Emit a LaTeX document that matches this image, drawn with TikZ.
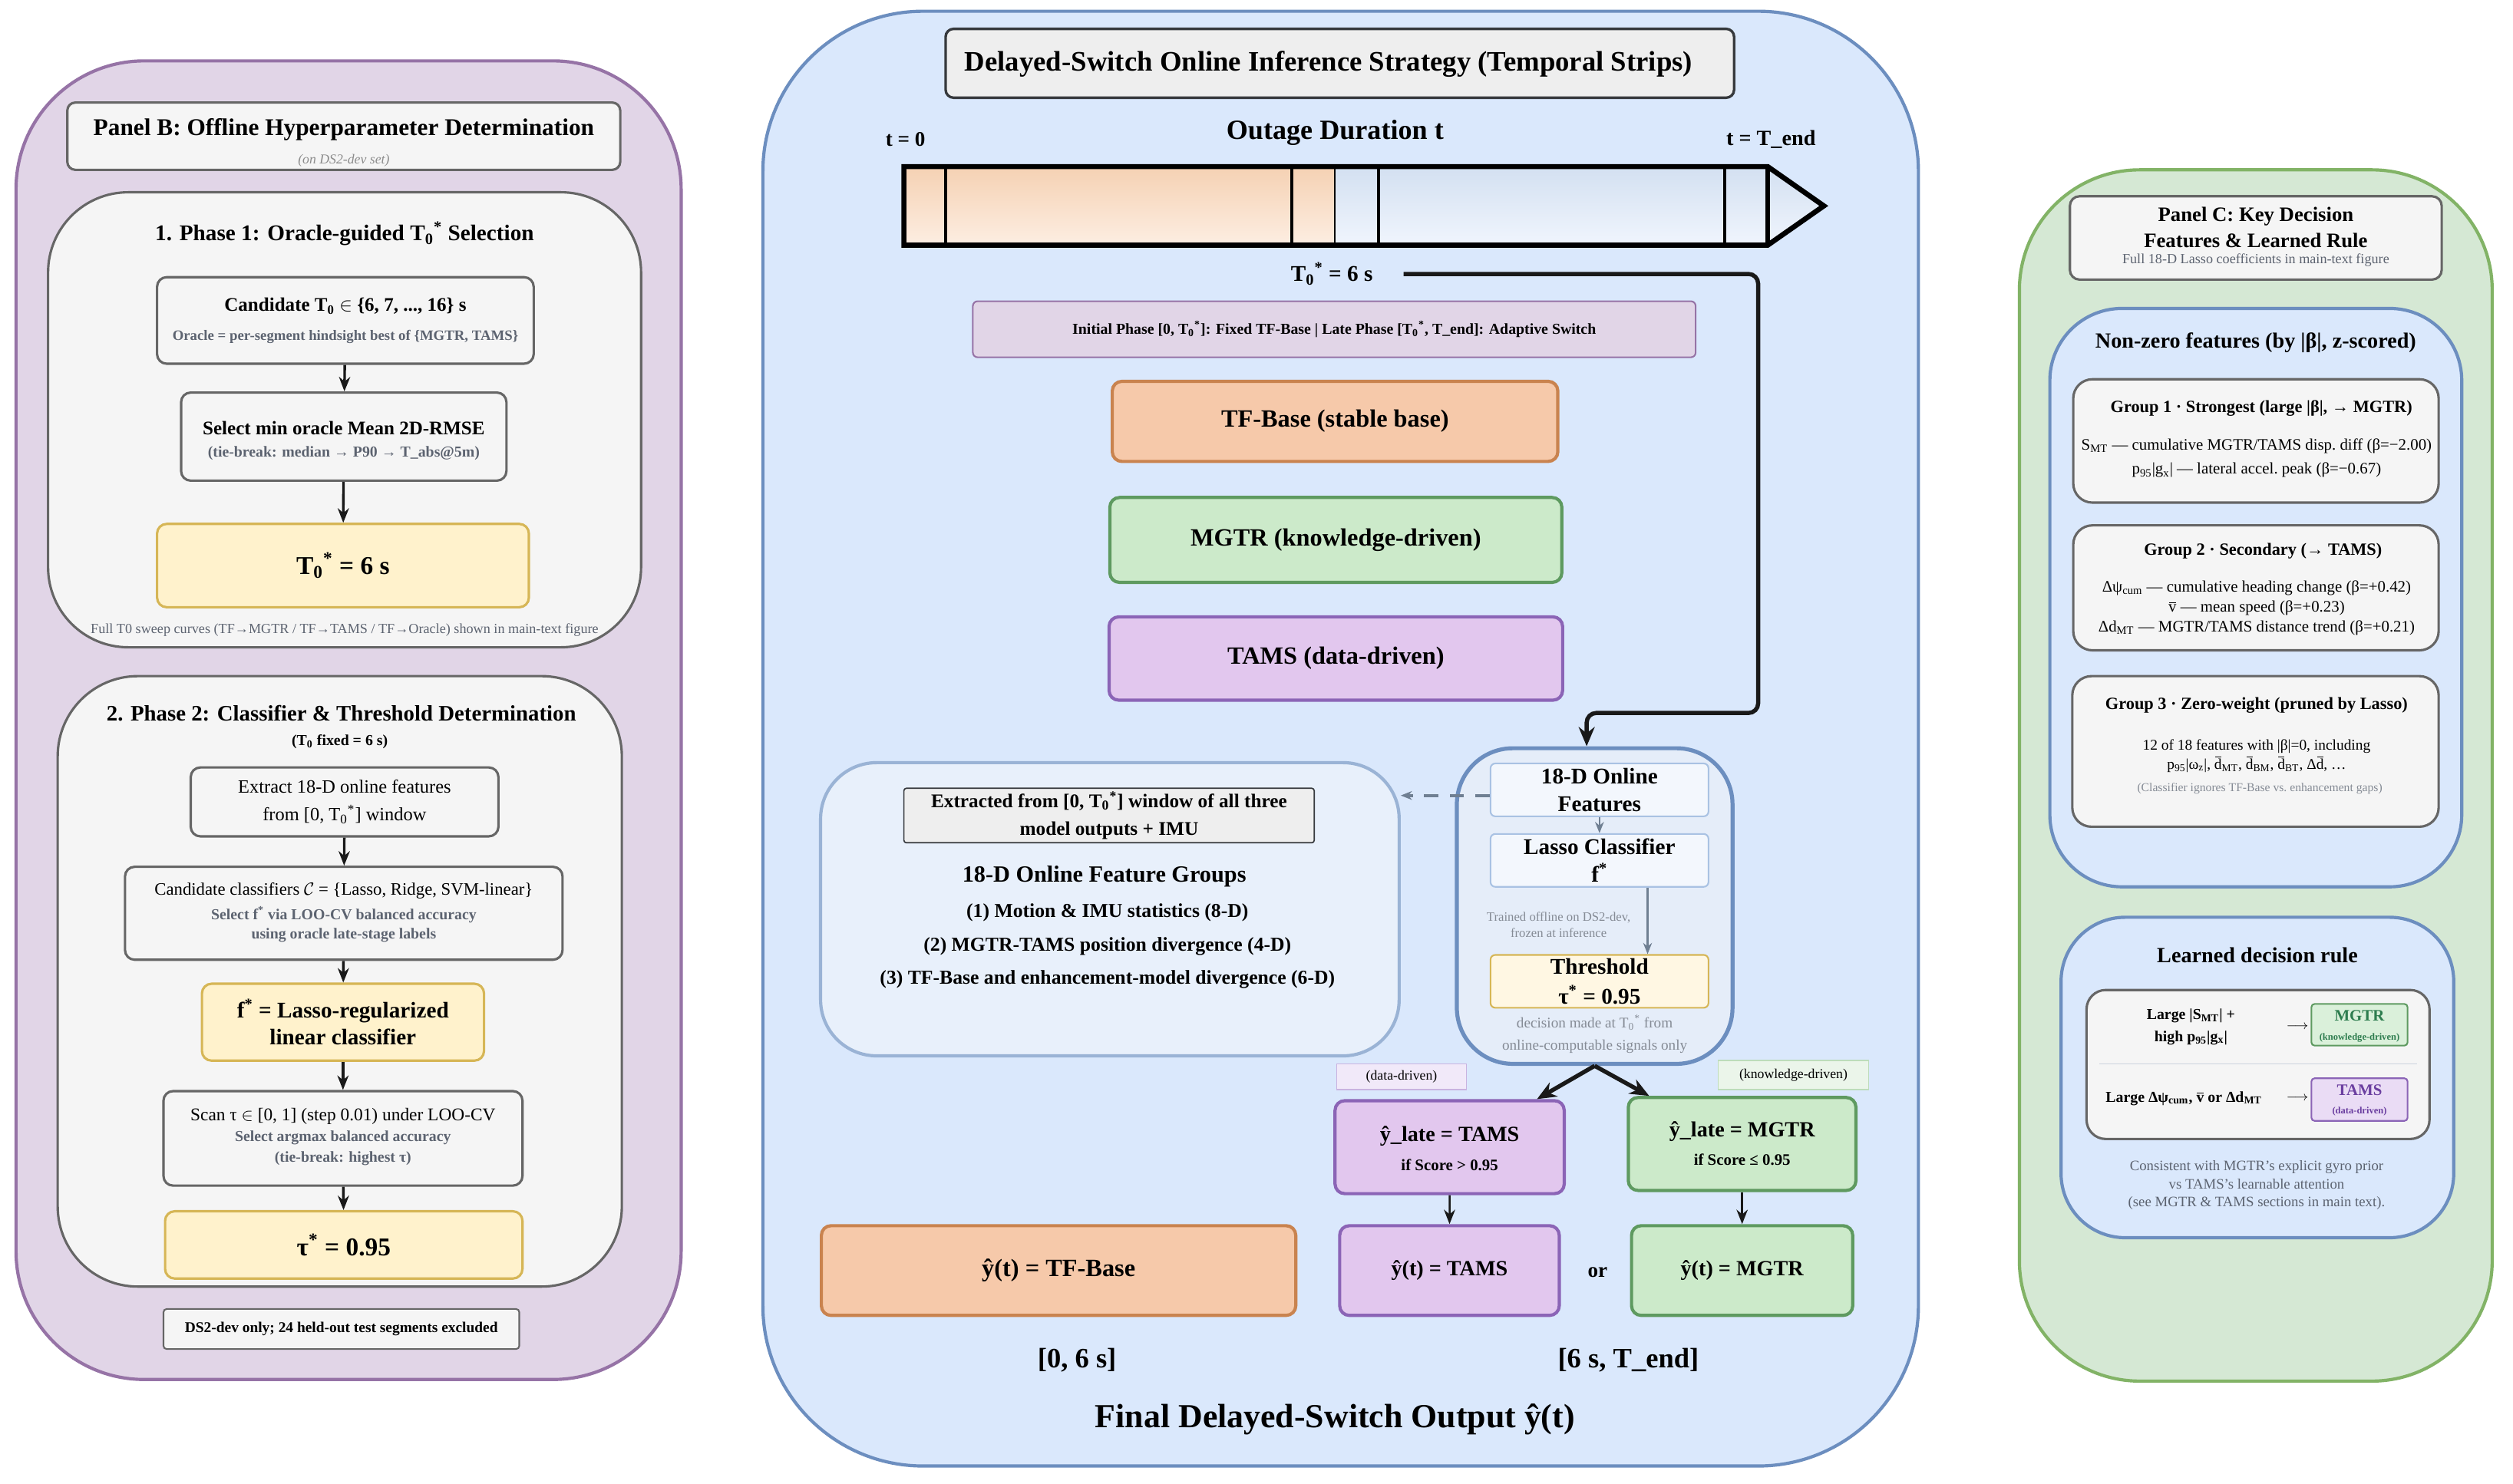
\documentclass[tikz,border=0pt]{standalone}
\usepackage{fontspec}
\setmainfont{Liberation Serif}
\definecolor{PurpFill}{HTML}{E1D5E7}
\definecolor{PurpLine}{HTML}{9673A6}
\definecolor{BoxFill}{HTML}{F5F5F5}
\definecolor{BoxLine}{HTML}{666666}
\definecolor{GoldFill}{HTML}{FFF2CC}
\definecolor{GoldLine}{HTML}{D6B656}
\definecolor{BlueFill}{HTML}{DAE8FC}
\definecolor{BlueLine}{HTML}{6C8EBF}
\definecolor{GreenFill}{HTML}{D5E8D4}
\definecolor{GreenLine}{HTML}{82B366}
\definecolor{BaseFill}{HTML}{F6C9AA}
\definecolor{BaseLine}{HTML}{C9834F}
\definecolor{MgtrFill}{HTML}{CCEACA}
\definecolor{MgtrLine}{HTML}{5E9A60}
\definecolor{TamsFill}{HTML}{E2C7EE}
\definecolor{TamsLine}{HTML}{8B64B6}
\definecolor{NoteGray}{HTML}{5C6370}
\definecolor{LightNote}{HTML}{858B95}
\definecolor{DarkLine}{HTML}{36393D}
\definecolor{TitleFill}{HTML}{EEEEEE}
\definecolor{SoftBlue}{HTML}{E8F0FB}
\definecolor{SoftLine}{HTML}{9AB3D5}
\definecolor{DecFill}{HTML}{E5EDF9}
\definecolor{CellFill}{HTML}{F3F7FD}
\definecolor{CellLine}{HTML}{A9C2E3}
\definecolor{ThrFill}{HTML}{FFF7E3}
\definecolor{ConnGray}{HTML}{6F7F92}
\definecolor{StripOrTop}{HTML}{F5D1B3}
\definecolor{StripOrBot}{HTML}{FDEEE2}
\definecolor{StripBlTop}{HTML}{D3E0F1}
\definecolor{StripBlBot}{HTML}{F0F5FD}
\definecolor{TagDataFill}{HTML}{F1E9F9}
\definecolor{TagDataLine}{HTML}{C9B3E0}
\definecolor{TagKnowFill}{HTML}{EBF5EA}
\definecolor{TagKnowLine}{HTML}{BDDCBB}
\definecolor{RuleMgtrFill}{HTML}{DAF0DA}
\definecolor{RuleMgtrText}{HTML}{2E7D4F}
\definecolor{RuleTamsFill}{HTML}{EADCF5}
\definecolor{RuleTamsText}{HTML}{6B3FA0}
\definecolor{SepLine}{HTML}{CBD3DE}
\usepackage{tikz}
\usetikzlibrary{
    arrows.meta,
    positioning,
    calc,
}
\newcommand{\fsz}[2]{\fontsize{#1}{#2}\selectfont}
\newcommand{\Tzs}{T\textsubscript{0}\textsuperscript{*}}
\newcommand{\mbar}[1]{\leavevmode\vbox{\offinterlineskip\halign{\hfil##\hfil\cr\rule{0.42em}{0.06em}\cr\noalign{\kern0.1em}#1\cr}}}
\tikzset{
    panel/.style={draw, line width=2pt, rounded corners=#1, inner sep=0pt},
    box/.style={draw=BoxLine, fill=BoxFill, line width=1.5pt, rounded corners=6pt, inner sep=0pt, align=center},
    goldbox/.style={box, draw=GoldLine, fill=GoldFill},
    model/.style={rounded corners=6pt, line width=2pt, inner sep=0pt, align=center, font=\fsz{15.5}{18}\bfseries},
    cell/.style={draw=CellLine, fill=CellFill, line width=1pt, rounded corners=3pt, minimum width=136pt, minimum height=33pt, inner sep=0pt, align=center, font=\fsz{14}{17}\bfseries},
    txt/.style={inner sep=0pt, align=center},
    note/.style={txt, text=NoteGray},
    tag/.style={line width=0.8pt, inner sep=0pt, font=\fsz{8.5}{10}},
    flow/.style={-{Stealth[length=9pt,width=7pt]}, line width=1.6pt, draw=black!90},
    bigflow/.style={-{Stealth[length=12pt,width=10pt]}, line width=2.6pt, draw=black!90},
    thinflow/.style={-{Stealth[length=7pt,width=5.5pt]}, line width=1.1pt, draw=ConnGray},
}
\begin{document}
\begin{tikzpicture}[x=1pt, y=-1pt]
    \path[use as bounding box, fill=white] (0,0) rectangle (1568,926);

    \node[panel=80pt, draw=PurpLine, fill=PurpFill, minimum width=415pt, minimum height=823pt] (panB) at (217.5,449.5) {};
    \node[box, rounded corners=5pt, minimum width=345pt, minimum height=42pt] (bHead) at (214.5,85) {};
    \node[txt, font=\fsz{15}{18}\bfseries] (bTitle) at (214.5,81) {Panel B: Offline Hyperparameter Determination};
    \node[txt, font=\fsz{8.5}{10}\itshape, text=black!45] (bSub) at (214.5,100) {(on DS2-dev set)};

    \node[box, rounded corners=50pt, minimum width=370pt, minimum height=284pt] (ph1) at (215,262) {};
    \node[txt, font=\fsz{14}{17}\bfseries] (ph1Title) at (215,146) {1. Phase 1: Oracle-guided \Tzs{} Selection};
    \node[box, minimum width=235pt, minimum height=54pt] (cand) at (215.5,200) {};
    \node[txt, font=\fsz{12}{14}\bfseries] (candA) at (215.5,191) {Candidate T\textsubscript{0} $\in$ \{6, 7, ..., 16\} s};
    \node[note, font=\fsz{9}{11}\bfseries] (candB) at (215.5,210) {Oracle = per-segment hindsight best of \{MGTR, TAMS\}};
    \node[box, minimum width=203pt, minimum height=55pt] (sel) at (214.5,272.5) {};
    \node[txt, font=\fsz{12}{14}\bfseries] (selA) at (214.5,267) {Select min oracle Mean 2D-RMSE};
    \node[note, font=\fsz{9.5}{11}\bfseries] (selB) at (214.5,283) {(tie-break: median → P90 → T\_abs@5m)};
    \node[goldbox, minimum width=232pt, minimum height=52pt, font=\fsz{16}{19}\bfseries] (tzero) at (214,353) {\Tzs{} = 6 s};
    \node[note, font=\fsz{8.7}{10}] (sweep) at (215,393) {Full T0 sweep curves (TF→MGTR / TF→TAMS / TF→Oracle) shown in main-text figure};

    \node[box, rounded corners=50pt, minimum width=352pt, minimum height=381pt] (ph2) at (212,612.5) {};
    \node[txt, font=\fsz{13.8}{17}\bfseries] (ph2Title) at (213,445) {2. Phase 2: Classifier \& Threshold Determination};
    \node[txt, font=\fsz{9.5}{11}\bfseries] (ph2Sub) at (212,463) {(T\textsubscript{0} fixed = 6 s)};
    \node[box, minimum width=192pt, minimum height=43pt, font=\fsz{11.7}{17}] (extr) at (215,500.5) {Extract 18-D online features\\from [0, \Tzs] window};
    \node[box, minimum width=273pt, minimum height=58pt] (cls) at (214.5,570) {};
    \node[txt, font=\fsz{10.9}{12}] (clsA) at (214.5,556) {Candidate classifiers $\mathcal{C}$ = \{Lasso, Ridge, SVM-linear\}};
    \node[note, font=\fsz{9.5}{12}\bfseries] (clsB) at (214.5,577) {Select f\textsuperscript{*} via LOO-CV balanced accuracy\\using oracle late-stage labels};
    \node[goldbox, minimum width=176pt, minimum height=48pt, font=\fsz{14}{17}\bfseries] (fstar) at (214,638) {f\textsuperscript{*} = Lasso-regularized\\linear classifier};
    \node[box, minimum width=224pt, minimum height=59pt] (scan) at (214,710.5) {};
    \node[txt, font=\fsz{11.2}{12}] (scanA) at (214,697) {Scan τ $\in$ [0, 1] (step 0.01) under LOO-CV};
    \node[note, font=\fsz{9.5}{13}\bfseries] (scanB) at (214,716.5) {Select argmax balanced accuracy\\(tie-break: highest τ)};
    \node[goldbox, minimum width=223pt, minimum height=42pt, font=\fsz{16}{19}\bfseries] (tau) at (214.5,777) {τ\textsuperscript{*} = 0.95};
    \node[box, rounded corners=2pt, line width=1pt, minimum width=222pt, minimum height=25pt, font=\fsz{9.3}{11}\bfseries] (devNote) at (213,829.5) {DS2-dev only; 24 held-out test segments excluded};

    \draw[flow] (cand) -- (sel);
    \draw[flow] (sel) -- (tzero);
    \draw[flow] (extr) -- (cls);
    \draw[flow] (cls) -- (fstar);
    \draw[flow] (fstar) -- (scan);
    \draw[flow] (scan) -- (tau);

    \node[panel=100pt, draw=BlueLine, fill=BlueFill, minimum width=721pt, minimum height=908pt] (panA) at (836.5,461) {};
    \node[box, draw=DarkLine, fill=TitleFill, line width=1.6pt, rounded corners=5pt, minimum width=492pt, minimum height=43pt] (aHead) at (836,39.5) {};
    \node[txt, font=\fsz{17.6}{20}\bfseries] (aTitle) at (829,40) {Delayed-Switch Online Inference Strategy (Temporal Strips)};
    \node[txt, font=\fsz{17.3}{20}\bfseries] (axisLbl) at (833,83) {Outage Duration t};
    \node[txt, font=\fsz{13}{15}\bfseries] (tStart) at (565,87) {t = 0};
    \node[txt, font=\fsz{13.5}{15}\bfseries] (tEnd) at (1105,87) {t = T\_end};

    \shade[top color=StripOrTop, bottom color=StripOrBot] (564,104) rectangle (833,153);
    \shade[top color=StripBlTop, bottom color=StripBlBot] (833,104) rectangle (1103,153);
    \shade[top color=StripBlTop, bottom color=StripBlBot] (1103,104) -- (1138,128.5) -- (1103,153) -- cycle;
    \foreach \xx in {590,806,860,1076}
        \draw[line width=1.8pt] (\xx,104) -- (\xx,153);
    \draw[line width=1pt] (833,104) -- (833,153);
    \draw[line width=3.2pt, line join=miter] (564,104) -- (1103,104) -- (1138,128.5) -- (1103,153) -- (564,153) -- cycle;
    \draw[line width=2.5pt] (1103,104) -- (1103,153);

    \node[txt, font=\fsz{14}{16}\bfseries] (t0Lbl) at (831,171) {\Tzs{} = 6 s};
    \node[draw=PurpLine, fill=PurpFill, line width=1pt, rounded corners=3pt, minimum width=451pt, minimum height=35pt, inner sep=0pt, font=\fsz{9.5}{11}\bfseries] (phases) at (832.5,205.5) {Initial Phase [0, \Tzs]: Fixed TF-Base | Late Phase [\Tzs, T\_end]: Adaptive Switch};

    \node[model, draw=BaseLine, fill=BaseFill, minimum width=278pt, minimum height=50pt] (mBase) at (833,263) {TF-Base (stable base)};
    \node[model, draw=MgtrLine, fill=MgtrFill, minimum width=282pt, minimum height=53pt] (mMgtr) at (833.5,337) {MGTR (knowledge-driven)};
    \node[model, draw=TamsLine, fill=TamsFill, minimum width=283pt, minimum height=52pt] (mTams) at (833.5,411) {TAMS (data-driven)};

    \node[draw=SoftLine, fill=SoftBlue, line width=2pt, rounded corners=35pt, minimum width=361pt, minimum height=183pt, inner sep=0pt] (grp) at (692.5,567.5) {};
    \node[draw=DarkLine, fill=TitleFill, line width=0.8pt, rounded corners=1.5pt, minimum width=256pt, minimum height=34pt, inner sep=0pt, align=center, font=\fsz{12.1}{17.5}\bfseries] (grpSrc) at (692,509) {Extracted from [0, \Tzs] window of all three\\model outputs + IMU};
    \node[txt, font=\fsz{14.5}{17}\bfseries] (grpTitle) at (689,547) {18-D Online Feature Groups};
    \node[txt, font=\fsz{12.3}{21}\bfseries] (grpList) at (691,590.5) {(1) Motion \& IMU statistics (8-D)\\(2) MGTR-TAMS position divergence (4-D)\\(3) TF-Base and enhancement-model divergence (6-D)};

    \node[draw=BlueLine, fill=DecFill, line width=2.5pt, rounded corners=35pt, minimum width=172pt, minimum height=197pt, inner sep=0pt] (dec) at (995,565.5) {};
    \node[cell] (feat) at (998,493) {18-D Online\\Features};
    \node[cell] (lasso) at (998,537) {Lasso Classifier\\f\textsuperscript{*}};
    \node[cell, draw=GoldLine, fill=ThrFill, font=\fsz{14}{19}\bfseries] (thr) at (998,612.5) {Threshold\\τ\textsuperscript{*} = 0.95};
    \node[txt, text=LightNote, font=\fsz{8}{10}] (frozen) at (972.5,577) {Trained offline on DS2-dev,\\frozen at inference};
    \node[txt, text=LightNote, font=\fsz{9.2}{14}] (decNote) at (995,645.5) {decision made at \Tzs{} from\\online-computable signals only};

    \draw[thinflow] (feat) -- (lasso);
    \draw[thinflow] ([xshift=30pt]lasso.south) -- ([xshift=30pt]thr.north);
    \draw[thinflow, line width=2pt, dash pattern=on 9pt off 7pt] ([yshift=-3.5pt]feat.west) -- ([yshift=-3.5pt]feat.west -| grp.east);
    \draw[bigflow, rounded corners=6pt] ([xshift=19pt]t0Lbl.east) -| (1097,445) -| ([xshift=-5pt]dec.north);

    \node[tag, draw=TagDataLine, fill=TagDataFill, minimum width=81pt, minimum height=16pt] (tagData) at (874.5,672) {(data-driven)};
    \node[tag, draw=TagKnowLine, fill=TagKnowFill, minimum width=94pt, minimum height=18pt] (tagKnow) at (1119,671) {(knowledge-driven)};

    \node[model, draw=TamsLine, fill=TamsFill, minimum width=143pt, minimum height=58pt] (lateT) at (904.5,716) {};
    \node[txt, font=\fsz{13.5}{16}\bfseries] (lateTA) at (904.5,709) {ŷ\_late = TAMS};
    \node[txt, font=\fsz{10}{12}\bfseries] (lateTB) at (904.5,727) {if Score > 0.95};
    \node[model, draw=MgtrLine, fill=MgtrFill, minimum width=142pt, minimum height=58pt] (lateM) at (1087,714) {};
    \node[txt, font=\fsz{13.5}{16}\bfseries] (lateMA) at (1087,706) {ŷ\_late = MGTR};
    \node[txt, font=\fsz{10}{12}\bfseries] (lateMB) at (1087,724) {if Score ≤ 0.95};

    \draw[bigflow] (dec.south) -- ([xshift=-18pt]lateT.north east);
    \draw[bigflow] (dec.south) -- ([xshift=14pt]lateM.north west);

    \node[model, draw=BaseLine, fill=BaseFill, minimum width=296pt, minimum height=56pt] (outB) at (660.5,793) {ŷ(t) = TF-Base};
    \node[model, draw=TamsLine, fill=TamsFill, minimum width=137pt, minimum height=56pt, font=\fsz{13.5}{16}\bfseries] (outT) at (904.4,793) {ŷ(t) = TAMS};
    \node[txt, font=\fsz{13}{15}\bfseries] (orLbl) at (996.8,794) {or};
    \node[model, draw=MgtrLine, fill=MgtrFill, minimum width=138pt, minimum height=56pt, font=\fsz{13.5}{16}\bfseries] (outM) at (1087,793) {ŷ(t) = MGTR};

    \draw[flow, line width=1.2pt] (lateT) -- (outT);
    \draw[flow, line width=1.2pt] (lateM) -- (outM);

    \node[txt, font=\fsz{17.5}{20}\bfseries] (rngEarly) at (672,849) {[0, 6 s]};
    \node[txt, font=\fsz{17.5}{20}\bfseries] (rngLate) at (1016,849) {[6 s, T\_end]};
    \node[txt, font=\fsz{21}{24}\bfseries] (finalLbl) at (833,886) {Final Delayed-Switch Output ŷ(t)};

    \node[panel=75pt, draw=GreenLine, fill=GreenFill, minimum width=295pt, minimum height=756pt] (panC) at (1407.5,484) {};
    \node[box, minimum width=232pt, minimum height=52pt] (cHead) at (1407.5,148.5) {};
    \node[txt, font=\fsz{12.8}{16}\bfseries] (cTitle) at (1407.5,142) {Panel C: Key Decision\\Features \& Learned Rule};
    \node[note, font=\fsz{8.7}{10}] (cSub) at (1407.5,162.5) {Full 18-D Lasso coefficients in main-text figure};

    \node[panel=45pt, draw=BlueLine, fill=BlueFill, minimum width=257pt, minimum height=361pt] (nzBox) at (1407.5,373) {};
    \node[txt, font=\fsz{13.5}{15}\bfseries] (nzTitle) at (1407.5,214) {Non-zero features (by |β|, z-scored)};

    \node[box, rounded corners=12pt, minimum width=228pt, minimum height=77pt] (g1) at (1407.6,275.2) {};
    \node[txt, font=\fsz{10.7}{12}\bfseries] (g1Title) at (1411,254.6) {Group 1 · Strongest (large |β|, → MGTR)};
    \node[txt, font=\fsz{10}{15}] (g1Body) at (1408,286) {S\textsubscript{MT} — cumulative MGTR/TAMS disp.\ diff (β=−2.00)\\p\textsubscript{95}|g\textsubscript{x}| — lateral accel.\ peak (β=−0.67)};

    \node[box, rounded corners=12pt, minimum width=228pt, minimum height=78pt] (g2) at (1407.6,366.9) {};
    \node[txt, font=\fsz{10.7}{12}\bfseries] (g2Title) at (1412,343.8) {Group 2 · Secondary (→ TAMS)};
    \node[txt, font=\fsz{10}{12.5}] (g2Body) at (1408,379.5) {Δψ\textsubscript{cum} — cumulative heading change (β=+0.42)\\\mbar{v} — mean speed (β=+0.23)\\Δd\textsubscript{MT} — MGTR/TAMS distance trend (β=+0.21)};

    \node[box, rounded corners=12pt, minimum width=228.6pt, minimum height=94pt] (g3) at (1407.3,469) {};
    \node[txt, font=\fsz{10.7}{12}\bfseries] (g3Title) at (1408,440) {Group 3 · Zero-weight (pruned by Lasso)};
    \node[txt, font=\fsz{9.3}{12}] (g3Body) at (1408,472) {12 of 18 features with |β|=0, including\\p\textsubscript{95}|ω\textsubscript{z}|, \mbar{d}\textsubscript{MT}, \mbar{d}\textsubscript{BM}, \mbar{d}\textsubscript{BT}, Δ\mbar{d}, …};
    \node[txt, text=LightNote, font=\fsz{7.5}{8}] (g3Note) at (1410,492) {(Classifier ignores TF-Base vs.\ enhancement gaps)};

    \node[panel=40pt, draw=BlueLine, fill=BlueFill, minimum width=245pt, minimum height=200pt] (ruleBox) at (1408.5,672.5) {};
    \node[txt, font=\fsz{13.5}{16}\bfseries] (ruleTitle) at (1408.5,596) {Learned decision rule};
    \node[box, rounded corners=12pt, minimum width=214pt, minimum height=93pt] (ruleCard) at (1408.9,664.4) {};
    \node[txt, font=\fsz{9.5}{13.8}\bfseries] (ruleA) at (1367,641) {Large |S\textsubscript{MT}| +\\high p\textsubscript{95}|g\textsubscript{x}|};
    \node[txt, font=\fsz{8}{10}] (arrA) at (1433.5,641) {$\longrightarrow$};
    \node[draw=MgtrLine, fill=RuleMgtrFill, line width=1pt, rounded corners=2pt, minimum width=60pt, minimum height=26pt, inner sep=0pt] (tagM) at (1472.2,639.6) {};
    \node[txt, text=RuleMgtrText, font=\fsz{10}{12}\bfseries] (tagMA) at (1472.2,634) {MGTR};
    \node[txt, text=RuleMgtrText, font=\fsz{6}{7}\bfseries] (tagMB) at (1472.2,647.8) {(knowledge-driven)};
    \draw[SepLine, line width=0.8pt] (1310,664) -- (1508,664);
    \node[txt, font=\fsz{9.5}{11}\bfseries] (ruleB) at (1362.6,685.6) {Large Δψ\textsubscript{cum}, \mbar{v} or Δd\textsubscript{MT}};
    \node[txt, font=\fsz{8}{10}] (arrB) at (1433.5,685.7) {$\longrightarrow$};
    \node[draw=TamsLine, fill=RuleTamsFill, line width=1pt, rounded corners=2pt, minimum width=60pt, minimum height=26.6pt, inner sep=0pt] (tagT) at (1472.2,686.3) {};
    \node[txt, text=RuleTamsText, font=\fsz{10}{12}\bfseries] (tagTA) at (1472.2,680.2) {TAMS};
    \node[txt, text=RuleTamsText, font=\fsz{6}{7}\bfseries] (tagTB) at (1472.2,693.7) {(data-driven)};
    \node[note, font=\fsz{9}{11.2}] (cNote) at (1408,739.8) {Consistent with MGTR's explicit gyro prior\\vs TAMS's learnable attention\\(see MGTR \& TAMS sections in main text).};
\end{tikzpicture}
\end{document}
